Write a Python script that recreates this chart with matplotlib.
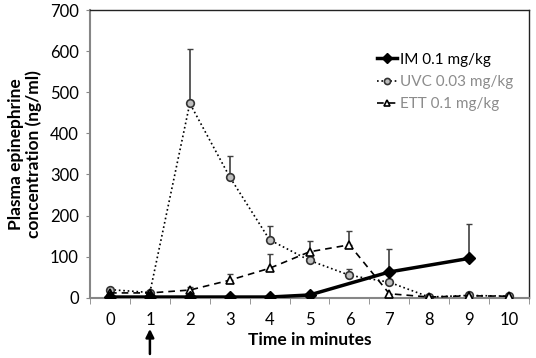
import matplotlib
matplotlib.use('Agg')
import matplotlib.pyplot as plt
from matplotlib.ticker import FixedLocator

plt.rcParams['font.family'] = ['Lato', 'DejaVu Sans']

# temps en minutes
im_x = [0, 1, 2, 3, 4, 5, 7, 9]
im_y = [2, 2, 2, 2, 2, 7, 63, 96]
im_err = [0, 0, 0, 0, 0, 0, 57, 83]

uvc_x = [0, 1, 2, 3, 4, 5, 6, 7, 8, 9, 10]
uvc_y = [20, 13, 473, 294, 141, 91, 55, 38, 2, 6, 4]
uvc_err = [0, 0, 133, 51, 34, 0, 15, 0, 0, 0, 0]

ett_x = [0, 1, 2, 3, 4, 5, 6, 7, 8, 9, 10]
ett_y = [12, 12, 19, 43, 72, 112, 129, 10, 2, 5, 4]
ett_err = [0, 0, 7, 16, 35, 27, 33, 0, 0, 0, 0]

yticks = [0, 100, 200, 300, 400, 500, 600, 700]
xticks = list(range(11))

fig = plt.figure(figsize=(5.36, 3.58), dpi=100)
ax = fig.add_axes([0.168, 0.168, 0.819, 0.804])

errcol = '#404040'
ax.errorbar(im_x, im_y, yerr=[[0] * len(im_err), im_err], fmt='none',
            ecolor=errcol, elinewidth=1.2, capsize=2, zorder=2)
ax.errorbar(uvc_x, uvc_y, yerr=[[0] * len(uvc_err), uvc_err], fmt='none',
            ecolor=errcol, elinewidth=1.2, capsize=2, zorder=2)
ax.errorbar(ett_x, ett_y, yerr=[[0] * len(ett_err), ett_err], fmt='none',
            ecolor=errcol, elinewidth=1.2, capsize=2, zorder=2)

ax.plot(uvc_x, uvc_y, linestyle=':', color='black', linewidth=1.2,
        marker='o', markersize=5.5, markerfacecolor='#bdbdbd',
        markeredgecolor='#333333', markeredgewidth=1.2,
        label='UVC 0.03 mg/kg', zorder=3)
ax.plot(ett_x, ett_y, linestyle=(0, (4, 3)), color='black', linewidth=1.2,
        marker='^', markersize=6, markerfacecolor='white',
        markeredgecolor='black', markeredgewidth=1.2,
        label='ETT 0.1 mg/kg', zorder=3)
ax.plot(im_x, im_y, linestyle='-', color='black', linewidth=2.5,
        marker='D', markersize=6, markerfacecolor='black',
        markeredgecolor='black', label='IM 0.1 mg/kg', zorder=4)

ax.set_xlim(-0.5, 10.5)
ax.set_ylim(0, 700)
ax.set_yticks(yticks)
ax.set_xticks(xticks)
ax.xaxis.set_minor_locator(FixedLocator([i - 0.5 for i in range(12)]))
ax.tick_params(axis='x', which='major', length=0, labelsize=12, pad=10)
ax.tick_params(axis='x', which='minor', length=4, color='#868686', direction='out')
ax.tick_params(axis='y', length=3, color='#868686', labelsize=12, pad=5)

for s in ['left', 'bottom']:
    ax.spines[s].set_color('#868686')
    ax.spines[s].set_linewidth(1.5)
for s in ['top', 'right']:
    ax.spines[s].set_color('#222222')
    ax.spines[s].set_linewidth(1.0)

ax.set_xlabel('Time in minutes', fontsize=12.5, fontweight='bold', labelpad=3)
ax.set_ylabel('Plasma epinephrine\nconcentration (ng/ml)', fontsize=12.5,
              fontweight='bold', labelpad=6, linespacing=1.1)

# flèche sous la minute 1
ax.annotate('', xy=(1, -0.108), xytext=(1, -0.195),
            xycoords=('data', 'axes fraction'), textcoords=('data', 'axes fraction'),
            arrowprops=dict(arrowstyle='-|>', color='black', lw=1.8,
                            mutation_scale=12, shrinkA=0, shrinkB=0),
            annotation_clip=False)

h, l = ax.get_legend_handles_labels()
order = [2, 0, 1]
leg = ax.legend([h[i] for i in order], [l[i] for i in order], loc='upper right',
                bbox_to_anchor=(0.995, 0.9), frameon=False, fontsize=11,
                handlelength=1.3, handletextpad=0.2, labelspacing=0.55,
                markerscale=0.8,
                labelcolor=['black', '#8c8c8c', '#8c8c8c'])

fig.savefig('out.png', dpi=100)
